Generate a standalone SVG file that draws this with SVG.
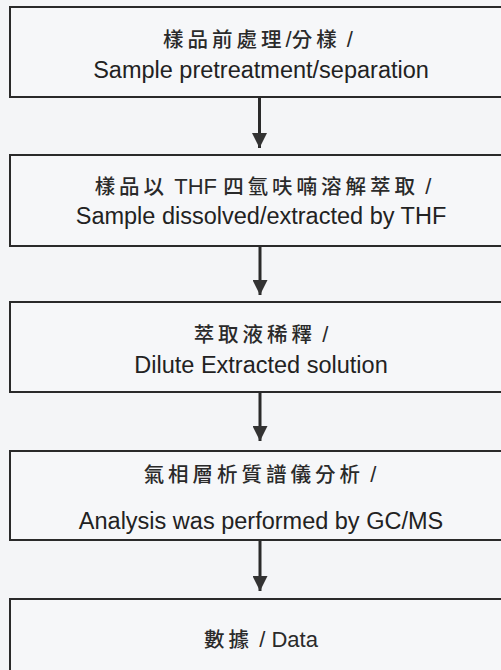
<svg xmlns="http://www.w3.org/2000/svg" width="501" height="670" viewBox="0 0 501 670">
<defs>
<style>
.bg{fill:#f4f5f7}
.box{fill:#f6f7f9;stroke:#2a2a2a;stroke-width:2}
.zh{font-family:"Noto Sans CJK TC","Noto Sans CJK SC",sans-serif;font-size:20.5px;font-weight:500;fill:#2a2a2a;text-anchor:middle}
.cj{letter-spacing:4px}
.la{font-family:"Liberation Sans",Arial,sans-serif;font-size:22px;font-weight:400}
.en{font-family:"Liberation Sans",Arial,sans-serif;font-size:23.5px;fill:#222;text-anchor:middle}
.conn{stroke:#2a2a2a;stroke-width:3;fill:none}
</style>
<marker id="ah" markerUnits="userSpaceOnUse" markerWidth="15" markerHeight="15" refX="15" refY="7.5" orient="auto">
<path d="M0,0 L15,7.5 L0,15 z" fill="#333"/>
</marker>
</defs>
<rect class="bg" x="0" y="0" width="501" height="670"/>
<g id="n1">
<rect class="box" x="10" y="7" width="500" height="90"/>
<text class="zh" x="258" y="47"><tspan class="cj">樣品前處理</tspan><tspan class="la">/</tspan><tspan class="cj">分樣</tspan><tspan class="la"> /</tspan></text>
<text class="en" x="261" y="78">Sample pretreatment/separation</text>
</g>
<g id="n2">
<rect class="box" x="10" y="155" width="500" height="91"/>
<text class="zh" x="263" y="194"><tspan class="cj">樣品以</tspan><tspan class="la"> THF </tspan><tspan class="cj">四氫呋喃溶解萃取</tspan><tspan class="la"> /</tspan></text>
<text class="en" x="261" y="224">Sample dissolved/extracted by THF</text>
</g>
<g id="n3">
<rect class="box" x="10" y="302" width="500" height="90"/>
<text class="zh" x="261" y="342"><tspan class="cj">萃取液稀釋</tspan><tspan class="la"> /</tspan></text>
<text class="en" x="261" y="373">Dilute Extracted solution</text>
</g>
<g id="n4">
<rect class="box" x="10" y="451" width="500" height="89"/>
<text class="zh" x="260" y="482"><tspan class="cj">氣相層析質譜儀分析</tspan><tspan class="la"> /</tspan></text>
<text class="en" x="261" y="529">Analysis was performed by GC/MS</text>
</g>
<g id="n5">
<rect class="box" x="10" y="599" width="500" height="90"/>
<text class="zh" x="261" y="647"><tspan class="cj">數據</tspan><tspan class="la"> / Data</tspan></text>
</g>
<g id="connectors">
<line class="conn" x1="259.5" y1="98" x2="259.5" y2="148" marker-end="url(#ah)"/>
<line class="conn" x1="260" y1="247" x2="260" y2="295" marker-end="url(#ah)"/>
<line class="conn" x1="260" y1="393" x2="260" y2="441" marker-end="url(#ah)"/>
<line class="conn" x1="260" y1="541" x2="260" y2="591" marker-end="url(#ah)"/>
</g>
</svg>
